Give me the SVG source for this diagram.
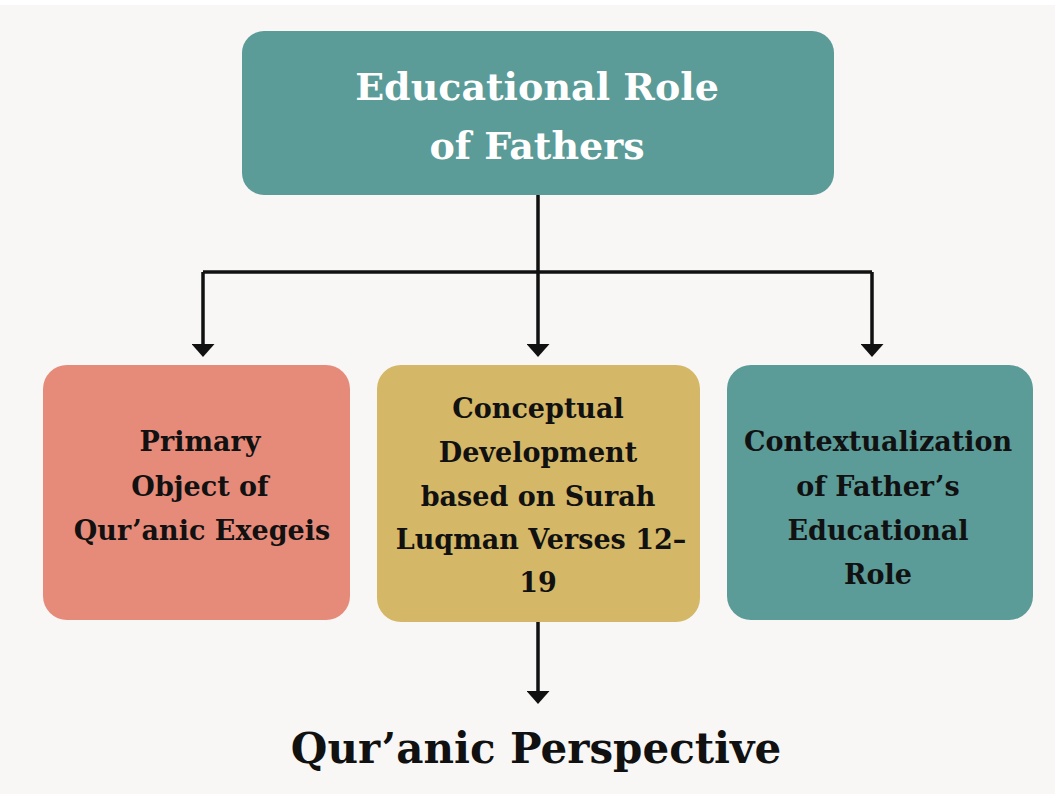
<svg xmlns="http://www.w3.org/2000/svg" width="1055" height="794" viewBox="0 0 1055 794">
  <defs>
    <style>
      .lbl { font-family: "DejaVu Serif", "Liberation Serif", serif; font-weight: bold; text-anchor: middle; }
      .dark { fill: #111111; font-size: 27px; }
      .title { fill: #ffffff; font-size: 38px; }
      .big { fill: #111111; font-size: 42px; }
      .conn { fill: none; stroke: #111111; stroke-width: 3.5; }
    </style>
    <marker id="arrow" markerWidth="13" markerHeight="23" refX="7" refY="11.5" orient="auto" markerUnits="userSpaceOnUse">
      <path d="M0,0 L13,11.5 L0,23 Z" fill="#111111"/>
    </marker>
  </defs>
  <rect x="0" y="0" width="1055" height="794" fill="#f8f7f5"/>
  <rect x="0" y="0" width="1055" height="5" fill="#ffffff"/>

  <g id="connectors">
    <path class="conn" d="M538,195 L538,272"/>
    <path class="conn" d="M203,272 L872,272"/>
    <path class="conn" d="M203,272 L203,351" marker-end="url(#arrow)"/>
    <path class="conn" d="M538,272 L538,351" marker-end="url(#arrow)"/>
    <path class="conn" d="M872,272 L872,351" marker-end="url(#arrow)"/>
    <path class="conn" d="M538,622 L538,698" marker-end="url(#arrow)"/>
  </g>

  <g id="node-top">
    <rect x="242" y="31" width="592" height="164" rx="22" fill="#5b9b98"/>
    <text class="lbl title" x="537" y="100">Educational Role</text>
    <text class="lbl title" x="537" y="159">of Fathers</text>
  </g>

  <g id="node-primary">
    <rect x="43" y="365" width="307" height="255" rx="24" fill="#e68b7a"/>
    <text class="lbl dark" x="200" y="451">Primary</text>
    <text class="lbl dark" x="200" y="496">Object of</text>
    <text class="lbl dark" x="202" y="540">Qur’anic Exegeis</text>
  </g>

  <g id="node-conceptual">
    <rect x="377" y="365" width="323" height="257" rx="24" fill="#d4b767"/>
    <text class="lbl dark" x="538" y="418">Conceptual</text>
    <text class="lbl dark" x="538" y="462">Development</text>
    <text class="lbl dark" x="538" y="506">based on Surah</text>
    <text class="lbl dark" x="541" y="549">Luqman Verses 12–</text>
    <text class="lbl dark" x="538" y="592">19</text>
  </g>

  <g id="node-context">
    <rect x="727" y="365" width="306" height="255" rx="24" fill="#5b9b98"/>
    <text class="lbl dark" x="878" y="451">Contextualization</text>
    <text class="lbl dark" x="878" y="496">of Father’s</text>
    <text class="lbl dark" x="878" y="540">Educational</text>
    <text class="lbl dark" x="878" y="584">Role</text>
  </g>

  <g id="node-perspective">
    <text class="lbl big" x="536" y="763">Qur’anic Perspective</text>
  </g>
</svg>
